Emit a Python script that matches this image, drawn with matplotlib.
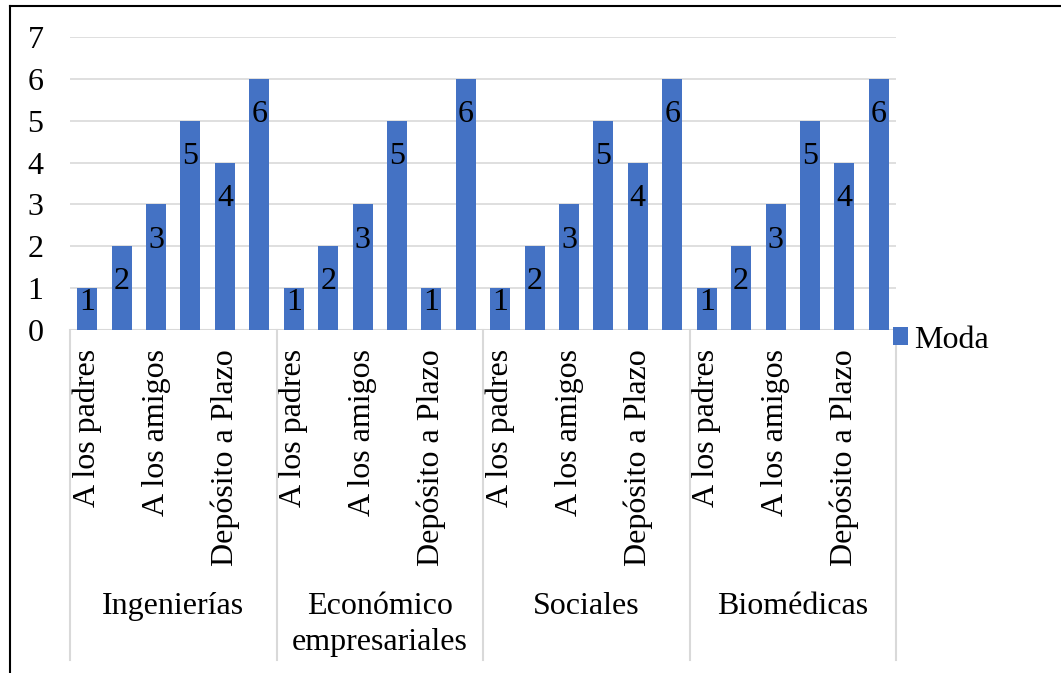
import matplotlib.pyplot as plt
from matplotlib.lines import Line2D

# data
groups = ["Ingenierías", "Económico\nempresariales", "Sociales", "Biomédicas"]
shown_labels = ["A los padres", "A los amigos", "Depósito a Plazo"]
moda_ingenierias = [1, 2, 3, 5, 4, 6]
moda_economico = [1, 2, 3, 5, 1, 6]
moda_sociales = [1, 2, 3, 5, 4, 6]
moda_biomedicas = [1, 2, 3, 5, 4, 6]

plt.rcParams['font.family'] = ['Liberation Serif', 'DejaVu Serif']

W, H = 1061, 673
fs = 23
blue = '#4472C4'
grey = '#d9d9d9'

values = moda_ingenierias + moda_economico + moda_sociales + moda_biomedicas
n_per = len(moda_ingenierias)
xs = list(range(len(values)))

fig = plt.figure(figsize=(W / 100, H / 100), dpi=100)
ax = fig.add_axes([70 / W, 1 - 330 / H, 826 / W, 293 / H])

ax.bar(xs, values, width=0.58, color=blue, label='Moda', zorder=2)
ax.set_xlim(-0.5, len(values) - 0.5)
ax.set_ylim(0, 7)
ax.set_yticks(range(0, 8))
ax.yaxis.grid(True, color=grey, lw=1.2)
ax.set_axisbelow(True)
for s in ax.spines.values():
    s.set_visible(False)
ax.axhline(0, color=grey, lw=1.5, zorder=1)
ax.tick_params(axis='y', length=0, pad=19, labelsize=fs)

# every other sub-category label is shown, like the original
tick_pos = [g * n_per + i for g in range(len(groups)) for i in (0, 2, 4)]
ax.set_xticks(tick_pos, shown_labels * len(groups), rotation=90)
ax.tick_params(axis='x', length=0, pad=13.5, labelsize=fs)

# data labels inside the bar ends
for x, v in zip(xs, values):
    ax.text(x, max(v - 1.03, 0.477), str(v), ha='center', va='baseline',
            fontsize=fs, zorder=3)

# group separators and group names
xt = ax.get_xaxis_transform()
for g in range(len(groups) + 1):
    b = g * n_per - 0.5
    ax.plot([b, b], [0, -(660 - 330) / 293], color=grey, lw=1.5,
            transform=xt, clip_on=False)
for g, name in enumerate(groups):
    ax.text(g * n_per + (n_per - 1) / 2, -(592 - 330) / 293, name,
            transform=xt, ha='center', va='top', fontsize=fs, linespacing=1.33)

ax.legend(loc='center left', bbox_to_anchor=(893 / W, 1 - 340 / H),
          bbox_transform=fig.transFigure, frameon=False, borderpad=0,
          borderaxespad=0, handlelength=0.47, handleheight=0.47,
          handletextpad=0.2, fontsize=fs)

# outer border (left and top only visible)
fig.add_artist(Line2D([9.5 / W, 9.5 / W], [0, 1 - 6 / H], color='black',
                      lw=1.5, transform=fig.transFigure))
fig.add_artist(Line2D([9.5 / W, 1], [1 - 6 / H, 1 - 6 / H], color='black',
                      lw=1.5, transform=fig.transFigure))

fig.savefig('out.png', dpi=100)
